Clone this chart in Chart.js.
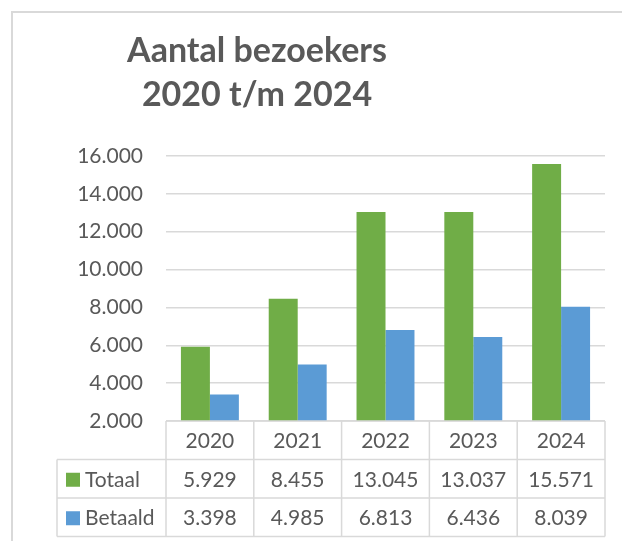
<!DOCTYPE html>
<html>
<head>
<title>Aantal bezoekers</title>
<script src="https://cdn.jsdelivr.net/npm/chart.js@4"></script>
<style>
  body { margin: 0; background: #fff; }
  canvas { display: block; }
</style>
</head>
<body>
<canvas id="canvas" width="622" height="541"></canvas>
<script>
const years = ['2020', '2021', '2022', '2023', '2024'];
const totaal = [5929, 8455, 13045, 13037, 15571];
const betaald = [3398, 4985, 6813, 6436, 8039];
const titleLines = ['Aantal bezoekers', '2020 t/m 2024'];

const GREEN = '#70ad47';
const BLUE = '#5b9bd5';
const TEXT = '#595959';
const LINE = '#d9d9d9';
const FONT = 'Lato';

// 16000 -> '16.000'
const fmt = (v) => String(v).replace(/\B(?=(\d{3})+(?!\d))/g, '.');

const frameAndTitle = {
  id: 'frameAndTitle',
  beforeDraw(chart) {
    const ctx = chart.ctx;
    ctx.save();
    ctx.strokeStyle = LINE;
    ctx.lineWidth = 2;
    ctx.beginPath();
    ctx.moveTo(12, chart.height);
    ctx.lineTo(12, 12);
    ctx.lineTo(chart.width, 12);
    ctx.stroke();

    ctx.fillStyle = TEXT;
    ctx.font = 'bold 34px ' + FONT;
    ctx.textAlign = 'center';
    ctx.textBaseline = 'alphabetic';
    ctx.fillText(titleLines[0], 257, 62);
    ctx.fillText(titleLines[1], 257, 106);
    ctx.restore();
  }
};

// data table under the plot, columns follow the x scale
const dataTable = {
  id: 'dataTable',
  afterDraw(chart) {
    const { ctx, chartArea } = chart;
    const xs = chart.scales.x;
    const half = (chartArea.right - chartArea.left) / years.length / 2;
    const top = chartArea.bottom;
    const rowH = 38.5;
    const legendLeft = 57;
    const rows = [
      { label: 'Totaal', color: GREEN, values: totaal },
      { label: 'Betaald', color: BLUE, values: betaald },
    ];
    const bottom = top + rowH * 3;

    ctx.save();
    ctx.strokeStyle = LINE;
    ctx.lineWidth = 1.5;
    ctx.beginPath();
    // horizontal lines
    ctx.moveTo(chartArea.left, top);
    ctx.lineTo(chartArea.right, top);
    for (let r = 1; r <= 3; r++) {
      ctx.moveTo(legendLeft, top + rowH * r);
      ctx.lineTo(chartArea.right, top + rowH * r);
    }
    // vertical lines
    ctx.moveTo(legendLeft, top + rowH);
    ctx.lineTo(legendLeft, bottom);
    for (let i = 0; i < years.length; i++) {
      const l = xs.getPixelForValue(i) - half;
      ctx.moveTo(l, top);
      ctx.lineTo(l, bottom);
    }
    ctx.moveTo(chartArea.right, top);
    ctx.lineTo(chartArea.right, bottom);
    ctx.stroke();

    ctx.fillStyle = TEXT;
    ctx.font = '21px ' + FONT;
    ctx.textBaseline = 'middle';
    ctx.textAlign = 'center';
    years.forEach((y, i) => {
      ctx.fillText(y, xs.getPixelForValue(i), top + rowH / 2 + 1);
    });
    rows.forEach((row, r) => {
      const cy = top + rowH * (r + 1) + rowH / 2 + 1;
      ctx.fillStyle = row.color;
      ctx.fillRect(66, cy - 7, 14, 14);
      ctx.fillStyle = TEXT;
      ctx.textAlign = 'left';
      ctx.fillText(row.label, 85, cy);
      ctx.textAlign = 'center';
      row.values.forEach((v, i) => {
        ctx.fillText(fmt(v), xs.getPixelForValue(i), cy);
      });
    });
    ctx.restore();
  }
};

Chart.defaults.font.family = FONT;
Chart.defaults.color = TEXT;

new Chart(document.getElementById('canvas'), {
  type: 'bar',
  data: {
    labels: years,
    datasets: [
      { label: 'Totaal', data: totaal, backgroundColor: GREEN },
      { label: 'Betaald', data: betaald, backgroundColor: BLUE },
    ],
  },
  options: {
    responsive: false,
    animation: false,
    datasets: {
      bar: { barPercentage: 1.0, categoryPercentage: 0.66 },
    },
    layout: {
      padding: { left: 12, right: 17, top: 156, bottom: 120 },
    },
    plugins: {
      legend: { display: false },
      title: { display: false },
      tooltip: { enabled: false },
    },
    scales: {
      x: { display: false },
      y: {
        min: 2000,
        max: 16000,
        ticks: {
          stepSize: 2000,
          padding: 23,
          color: TEXT,
          font: { size: 21 },
          callback: (v) => fmt(v),
        },
        grid: { color: LINE, lineWidth: 1.5, drawTicks: false },
        border: { display: false },
        afterFit(s) { s.width = 154; },
      },
    },
  },
  plugins: [frameAndTitle, dataTable],
});
</script>
</body>
</html>
